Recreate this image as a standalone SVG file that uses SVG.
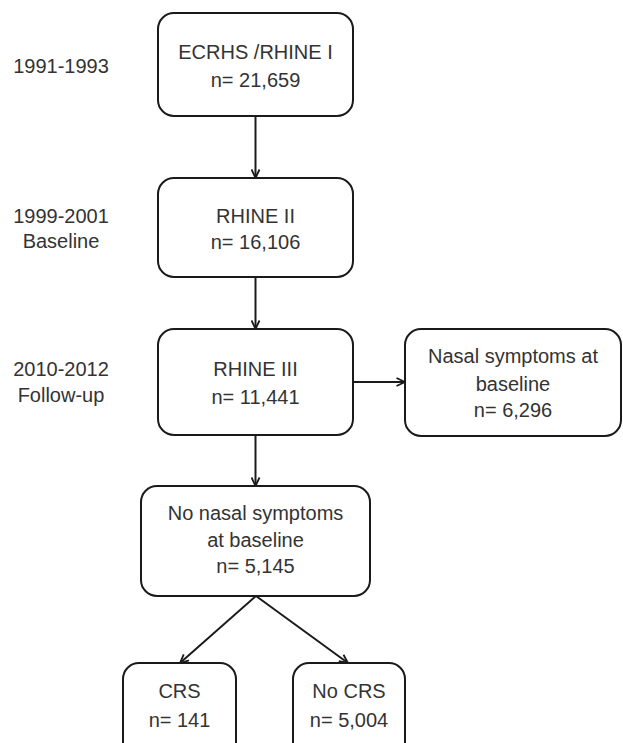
<svg xmlns="http://www.w3.org/2000/svg" width="623" height="743" viewBox="0 0 623 743">
<style>
  .box { fill: #ffffff; stroke: #1a1a1a; stroke-width: 2; }
  .t { font-family: "Liberation Sans", Arial, sans-serif; font-size: 20px; fill: #333333; text-anchor: middle; }
  .conn { stroke: #1a1a1a; stroke-width: 2; fill: none; marker-end: url(#arr); }
</style>
<defs>
  <marker id="arr" viewBox="0 0 10 10" refX="9.5" refY="5" markerWidth="10" markerHeight="10" markerUnits="userSpaceOnUse" orient="auto">
    <path d="M1,1 L9.5,5 L1,9" fill="none" stroke="#1a1a1a" stroke-width="1.8"/>
  </marker>
</defs>
<rect width="623" height="743" fill="#ffffff"/>

<g id="labels">
  <text class="t" x="61" y="73">1991-1993</text>
  <text class="t" x="61" y="223">1999-2001</text>
  <text class="t" x="61" y="248">Baseline</text>
  <text class="t" x="61" y="376">2010-2012</text>
  <text class="t" x="61" y="402">Follow-up</text>
</g>

<g id="connectors">
  <line class="conn" x1="255.5" y1="116" x2="255.5" y2="178"/>
  <line class="conn" x1="255.5" y1="277" x2="255.5" y2="329"/>
  <line class="conn" x1="353" y1="382" x2="405" y2="382"/>
  <line class="conn" x1="255.5" y1="435" x2="255.5" y2="486"/>
  <line class="conn" x1="256" y1="596" x2="180" y2="663"/>
  <line class="conn" x1="256" y1="596" x2="348" y2="663"/>
</g>

<g id="n-rhine1">
  <rect class="box" x="158" y="13" width="195" height="103" rx="16"/>
  <text class="t" x="255.5" y="59">ECRHS /RHINE I</text>
  <text class="t" x="255.5" y="87">n= 21,659</text>
</g>

<g id="n-rhine2">
  <rect class="box" x="158" y="178" width="195" height="99" rx="16"/>
  <text class="t" x="255.5" y="223">RHINE II</text>
  <text class="t" x="255.5" y="249">n= 16,106</text>
</g>

<g id="n-rhine3">
  <rect class="box" x="158" y="329" width="195" height="106" rx="16"/>
  <text class="t" x="255.5" y="376">RHINE III</text>
  <text class="t" x="255.5" y="404">n= 11,441</text>
</g>

<g id="n-nasal">
  <rect class="box" x="405" y="329" width="216" height="107" rx="16"/>
  <text class="t" x="513" y="363">Nasal symptoms at</text>
  <text class="t" x="513" y="391">baseline</text>
  <text class="t" x="513" y="417">n= 6,296</text>
</g>

<g id="n-nonasal">
  <rect class="box" x="141" y="486" width="229" height="110" rx="16"/>
  <text class="t" x="255.5" y="520">No nasal symptoms</text>
  <text class="t" x="255.5" y="547">at baseline</text>
  <text class="t" x="255.5" y="573">n= 5,145</text>
</g>

<g id="n-crs">
  <rect class="box" x="123" y="663" width="113" height="100" rx="16"/>
  <text class="t" x="179.5" y="698">CRS</text>
  <text class="t" x="179.5" y="727">n= 141</text>
</g>

<g id="n-nocrs">
  <rect class="box" x="293" y="663" width="112" height="100" rx="16"/>
  <text class="t" x="349" y="698">No CRS</text>
  <text class="t" x="349" y="727">n= 5,004</text>
</g>
</svg>
